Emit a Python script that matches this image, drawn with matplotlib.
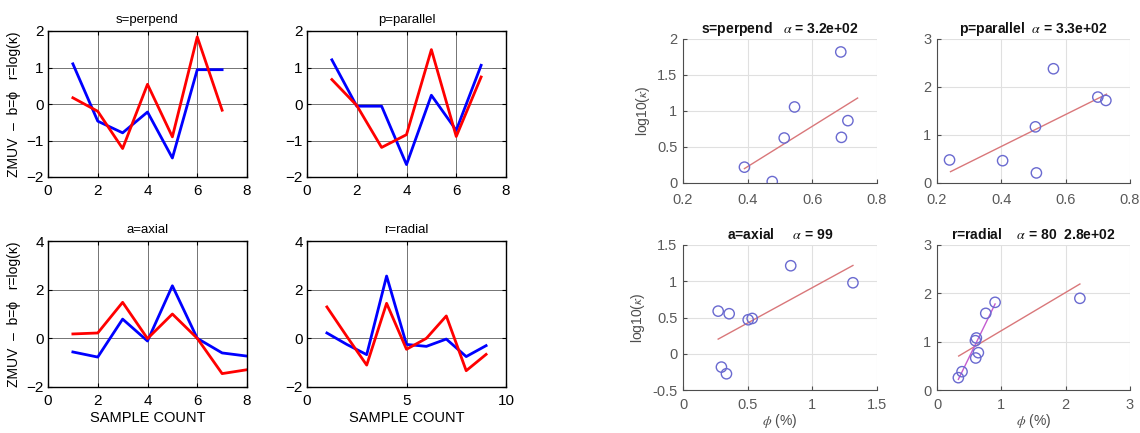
import matplotlib
matplotlib.use("Agg")
import matplotlib.pyplot as plt
import numpy as np

plt.rcParams['font.family'] = ['Liberation Sans', 'DejaVu Sans']
plt.rcParams['mathtext.fontset'] = 'stix'

W, H = 1140, 433

# ---------------- left: ZMUV series ----------------
line_titles = ["s=perpend", "p=parallel", "a=axial", "r=radial"]
blue_s = [1.10, -0.47, -0.79, -0.22, -1.48, 0.94, 0.94]
red_s = [0.17, -0.20, -1.22, 0.54, -0.90, 1.84, -0.17]
blue_p = [1.21, -0.06, -0.06, -1.66, 0.24, -0.72, 1.06]
red_p = [0.67, -0.04, -1.19, -0.84, 1.49, -0.89, 0.74]
blue_a = [-0.56, -0.77, 0.79, -0.11, 2.16, 0.0, -0.60, -0.73]
red_a = [0.18, 0.22, 1.48, -0.01, 1.00, 0.0, -1.45, -1.29]
blue_r = [0.22, -0.25, -0.67, 2.56, -0.25, -0.33, -0.03, -0.75, -0.30]
red_r = [1.29, 0.08, -1.10, 1.44, -0.45, 0.00, 0.92, -1.33, -0.66]
line_xlim = [8, 8, 8, 10]
line_ylim = [(-2, 2), (-2, 2), (-2, 4), (-2, 4)]
line_yticks = [[-2, -1, 0, 1, 2], [-2, -1, 0, 1, 2], [-2, 0, 2, 4], [-2, 0, 2, 4]]
line_xticks = [[0, 2, 4, 6, 8], [0, 2, 4, 6, 8], [0, 2, 4, 6, 8], [0, 5, 10]]

# ---------------- right: scatter ----------------
sc_titles = ["s=perpend   $\\alpha$ = 3.2e+02", "p=parallel  $\\alpha$ = 3.3e+02",
             "a=axial     $\\alpha$ = 99", "r=radial    $\\alpha$ = 80  2.8e+02"]
phi_s = [0.39, 0.476, 0.513, 0.545, 0.688, 0.69, 0.71]
logk_s = [0.22, 0.02, 0.625, 1.056, 1.82, 0.634, 0.866]
phi_p = [0.239, 0.404, 0.506, 0.509, 0.562, 0.70, 0.725]
logk_p = [0.48, 0.465, 1.17, 0.21, 2.38, 1.79, 1.72]
phi_a = [0.272, 0.357, 0.297, 0.336, 0.504, 0.535, 0.833, 1.314]
logk_a = [0.588, 0.552, -0.184, -0.276, 0.469, 0.487, 1.214, 0.979]
phi_r = [0.332, 0.389, 0.602, 0.643, 0.597, 0.612, 0.758, 0.903, 2.221]
logk_r = [0.255, 0.379, 0.662, 0.772, 1.02, 1.076, 1.586, 1.814, 1.897]
fit_x = [[0.39, 0.74], [0.242, 0.727], [0.272, 1.314], [0.337, 2.221]]
fit_y = [[0.20, 1.18], [0.236, 1.85], [0.202, 1.218], [0.703, 2.193]]
fit2_x_r = [0.332, 0.903]
fit2_y_r = [0.22, 1.78]
sc_xlim = [(0.2, 0.8), (0.2, 0.8), (0, 1.5), (0, 3)]
sc_ylim = [(0, 2), (0, 3), (-0.5, 1.5), (0, 3)]
sc_xticks = [[0.2, 0.4, 0.6, 0.8], [0.2, 0.4, 0.6, 0.8], [0, 0.5, 1, 1.5], [0, 1, 2, 3]]
sc_yticks = [[0, 0.5, 1, 1.5, 2], [0, 1, 2, 3], [-0.5, 0, 0.5, 1, 1.5], [0, 1, 2, 3]]

fig = plt.figure(figsize=(W / 100, H / 100), dpi=100)


def add_ax(l, r, t, b):
    return fig.add_axes([l / W, 1 - b / H, (r - l) / W, (b - t) / H])


line_boxes = [(48, 247, 31, 177), (307, 506, 31, 177), (48, 247, 241, 387), (307, 506, 241, 387)]
blues = [blue_s, blue_p, blue_a, blue_r]
reds = [red_s, red_p, red_a, red_r]
for i in range(4):
    ax = add_ax(*line_boxes[i])
    x = np.arange(1, len(blues[i]) + 1)
    ax.plot(x, blues[i], color='#0000ff', lw=2)
    ax.plot(x, reds[i], color='#ff0000', lw=2)
    ax.set_xlim(0, line_xlim[i])
    ax.set_ylim(*line_ylim[i])
    ax.set_xticks(line_xticks[i])
    ax.set_yticks(line_yticks[i])
    ax.grid(True, color='0.45', lw=0.7, ls='-')
    ax.set_axisbelow(True)
    ax.tick_params(direction='in', length=3, labelsize=11, top=True, right=True, pad=3)
    ax.tick_params(axis='x', pad=5)
    for sp in ax.spines.values():
        sp.set_linewidth(1.0)
    ax.set_title(line_titles[i], fontsize=9.5, pad=6)
    if i in (0, 2):
        ax.set_ylabel("ZMUV  \u2013  b=\u03d5   r=log(\u03ba)", fontsize=10, labelpad=4)
    if i in (2, 3):
        ax.set_xlabel("SAMPLE COUNT", fontsize=10.5, labelpad=2)

sc_boxes = [(683, 877, 39, 183), (937, 1130, 39, 183), (683, 877, 245, 390), (937, 1130, 245, 390)]
phis = [phi_s, phi_p, phi_a, phi_r]
logks = [logk_s, logk_p, logk_a, logk_r]
for i in range(4):
    ax = add_ax(*sc_boxes[i])
    ax.plot(fit_x[i], fit_y[i], color='#d9777a', lw=1.0, zorder=2)
    if i == 3:
        ax.plot(fit2_x_r, fit2_y_r, color='#c45ccf', lw=1.0, zorder=2)
    ax.scatter(phis[i], logks[i], s=55, facecolors='none', edgecolors='#6a6ad0', linewidths=1.0, zorder=3)
    ax.set_xlim(*sc_xlim[i])
    ax.set_ylim(*sc_ylim[i])
    ax.set_xticks(sc_xticks[i])
    ax.set_yticks(sc_yticks[i])
    ax.set_xticklabels([f"{v:g}" for v in sc_xticks[i]])
    ax.set_yticklabels([f"{v:g}" for v in sc_yticks[i]])
    ax.grid(True, color='0.88', lw=0.8)
    ax.set_axisbelow(True)
    ax.spines['top'].set_visible(False)
    ax.spines['right'].set_visible(False)
    for sp in ('left', 'bottom'):
        ax.spines[sp].set_color('0.3')
        ax.spines[sp].set_linewidth(0.8)
    ax.tick_params(direction='in', length=3, labelsize=10.5, colors='0.3', labelcolor='0.35', pad=4)
    ax.tick_params(axis='x', pad=7 if i < 2 else 6)
    ax.set_title(sc_titles[i], fontsize=10, fontweight='bold', pad=4, color='#111111')
    if i in (0, 2):
        ax.set_ylabel("log10($\\kappa$)", fontsize=10, color='0.3', labelpad=4)
    if i in (2, 3):
        ax.set_xlabel("$\\phi$ (%)", fontsize=10, color='0.3', labelpad=0)

fig.savefig("out.png", dpi=100)
